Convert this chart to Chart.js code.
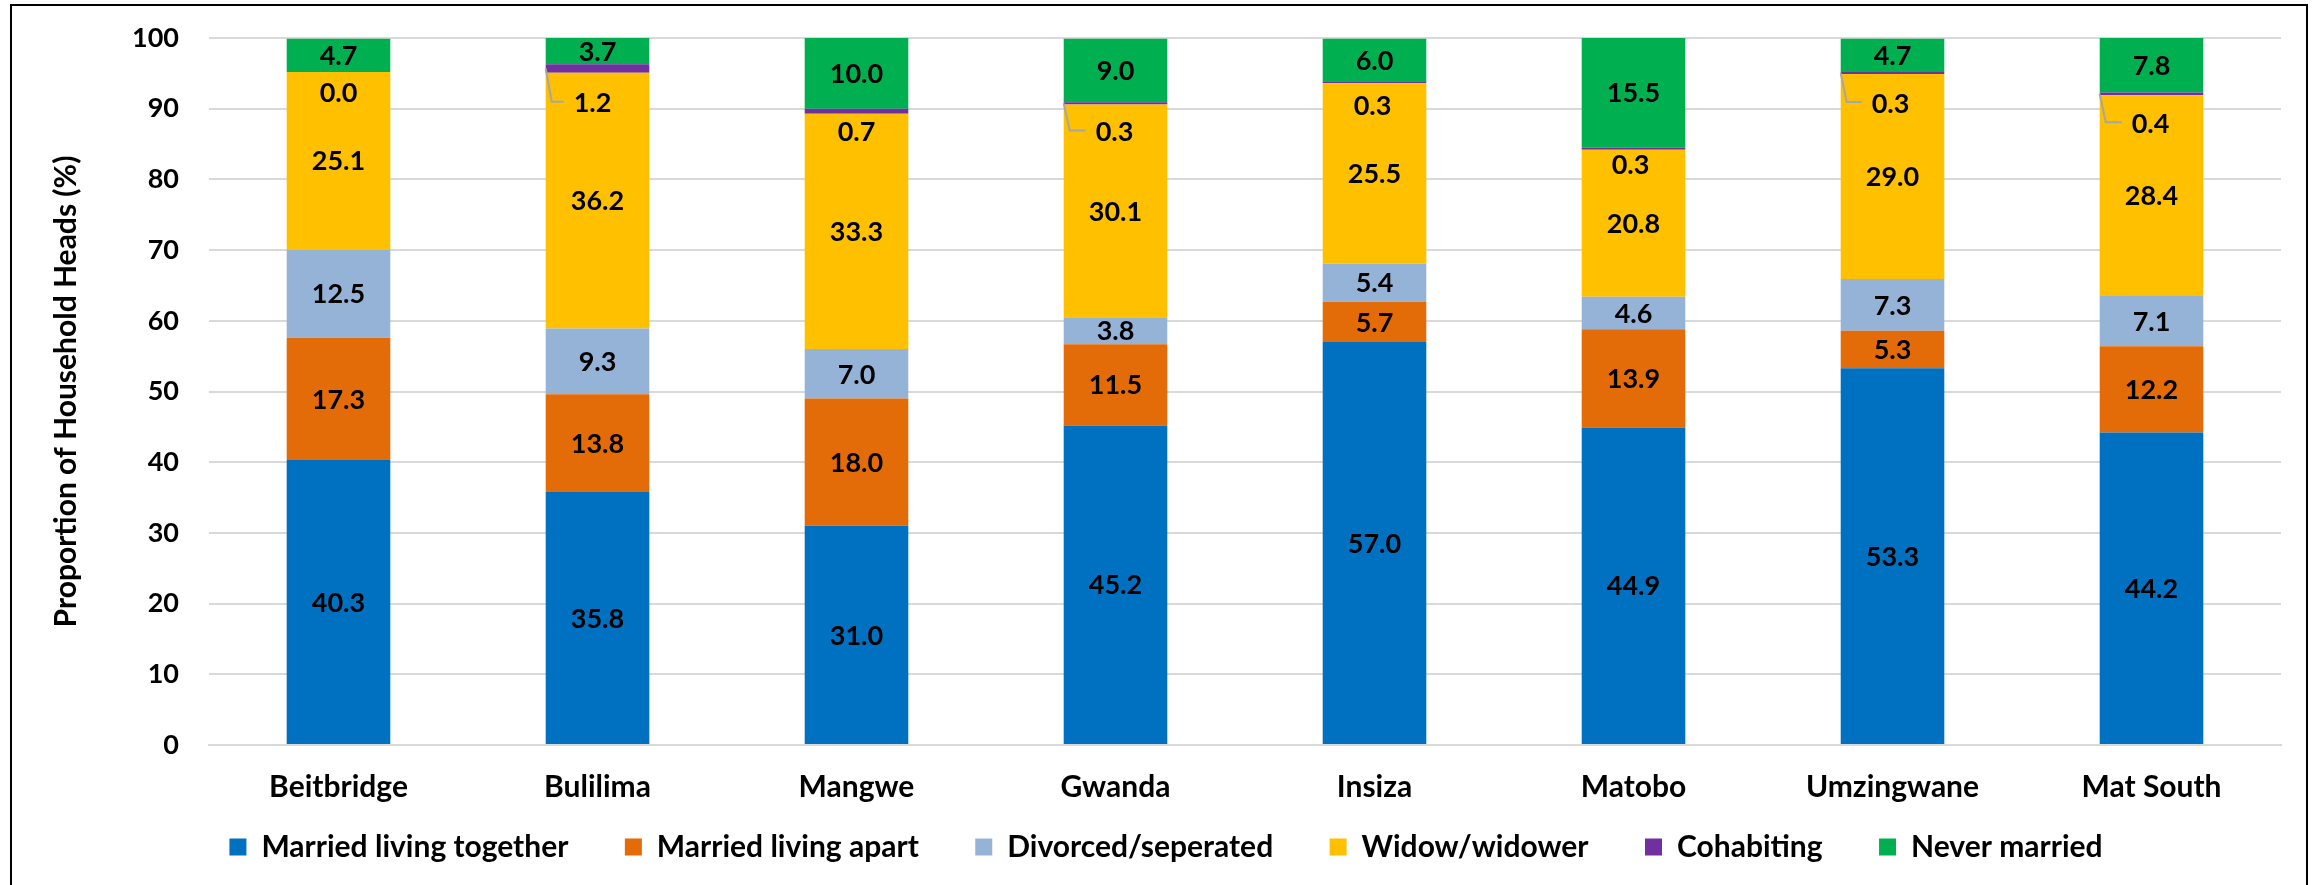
<!DOCTYPE html>
<html>
<head>
<meta charset="utf-8">
<script src="https://cdn.jsdelivr.net/npm/chart.js@4.4.1/dist/chart.umd.min.js"></script>
<style>
  html, body { margin: 0; padding: 0; background: #ffffff; }
  #wrap { width: 2313px; height: 885px; position: relative; }
</style>
</head>
<body>
<div id="wrap"><canvas id="chart" width="2313" height="885"></canvas></div>
<script>
// Marital status of household heads by district (%)
const districts = ['Beitbridge', 'Bulilima', 'Mangwe', 'Gwanda', 'Insiza', 'Matobo', 'Umzingwane', 'Mat South'];

const marriedTogether = [40.3, 35.8, 31.0, 45.2, 57.0, 44.9, 53.3, 44.2];
const marriedApart    = [17.3, 13.8, 18.0, 11.5, 5.7, 13.9, 5.3, 12.2];
const divorced        = [12.5, 9.3, 7.0, 3.8, 5.4, 4.6, 7.3, 7.1];
const widowed         = [25.1, 36.2, 33.3, 30.1, 25.5, 20.8, 29.0, 28.4];
const cohabiting      = [0.0, 1.2, 0.7, 0.3, 0.3, 0.3, 0.3, 0.4];
const neverMarried    = [4.7, 3.7, 10.0, 9.0, 6.0, 15.5, 4.7, 7.8];

const seriesNames = ['Married living together', 'Married living apart', 'Divorced/seperated', 'Widow/widower', 'Cohabiting', 'Never married'];
const yTicks = [0, 10, 20, 30, 40, 50, 60, 70, 80, 90, 100];

const FONT = 'Lato, "Open Sans", sans-serif';
const NUM_FS = 27;   // tick and value labels
const TXT_FS = 30;   // category, legend and axis title text
const colors = ['#0070C0', '#E36C09', '#95B3D7', '#FFC000', '#7030A0', '#00B050'];

// Small cohabiting values sit under their thin segment; some use a leader line.
const cohabLabelStyle = {
  dy:     [21, 31, 19, 28, 23, 16, 30, 29],
  dx:     [0, -5, 0, -1, -2, -3, -2, -1],
  leader: [false, true, false, true, false, false, true, true]
};

// extra trailing space after each legend entry (wider gap between items)
const LEGEND_GAP = '     ';

const seriesValues = [marriedTogether, marriedApart, divorced, widowed, cohabiting, neverMarried];

const valueLabels = {
  id: 'valueLabels',
  afterDatasetsDraw(chart) {
    const ctx = chart.ctx;
    ctx.save();
    ctx.font = 'bold ' + NUM_FS + 'px ' + FONT;
    ctx.fillStyle = '#000000';
    ctx.textAlign = 'center';
    ctx.textBaseline = 'middle';
    chart.data.datasets.forEach((ds, di) => {
      const meta = chart.getDatasetMeta(di);
      meta.data.forEach((bar, i) => {
        const v = ds.data[i];
        const txt = v.toFixed(1);
        if (di === 4) {
          const top = Math.min(bar.y, bar.base);
          const bot = Math.max(bar.y, bar.base);
          const lx = bar.x + cohabLabelStyle.dx[i];
          const ly = bot + cohabLabelStyle.dy[i];
          if (cohabLabelStyle.leader[i]) {
            const left = bar.x - bar.width / 2;
            const tw = ctx.measureText(txt).width;
            ctx.save();
            ctx.strokeStyle = '#A6A6A6';
            ctx.lineWidth = 2;
            ctx.beginPath();
            ctx.moveTo(left, (top + bot) / 2);
            ctx.lineTo(left + 6, ly - 2);
            ctx.lineTo(lx - tw / 2 - 10, ly - 2);
            ctx.stroke();
            ctx.restore();
          }
          ctx.fillText(txt, lx, ly);
        } else {
          ctx.fillText(txt, bar.x, (bar.y + bar.base) / 2 + 1);
        }
      });
    });
    ctx.restore();
  }
};

const frame = {
  id: 'frame',
  afterDraw(chart) {
    const ctx = chart.ctx;
    ctx.save();
    ctx.strokeStyle = '#000000';
    ctx.lineWidth = 2;
    ctx.strokeRect(11, 5, 2296, 900);
    ctx.restore();
  }
};

new Chart(document.getElementById('chart'), {
  type: 'bar',
  data: {
    labels: districts,
    datasets: seriesValues.map((vals, k) => ({
      label: seriesNames[k],
      data: vals,
      backgroundColor: colors[k],
      borderWidth: 0,
      categoryPercentage: 1.0,
      barPercentage: 0.4
    }))
  },
  options: {
    responsive: false,
    animation: false,
    devicePixelRatio: 1,
    layout: { padding: { left: 51, right: 32, top: 38, bottom: 13 } },
    plugins: {
      tooltip: { enabled: false },
      legend: {
        position: 'bottom',
        labels: {
          boxWidth: 17,
          boxHeight: 17,
          padding: 20,
          color: '#000000',
          font: { family: FONT, size: TXT_FS, weight: 'bold' },
          generateLabels(chart) {
            const items = Chart.defaults.plugins.legend.labels.generateLabels(chart);
            items.forEach((it, k) => {
              if (k < items.length - 1) it.text = it.text + LEGEND_GAP;
            });
            return items;
          }
        }
      }
    },
    scales: {
      x: {
        stacked: true,
        grid: { display: false, drawTicks: false },
        border: { display: true, color: '#D9D9D9', width: 2 },
        ticks: {
          padding: 24,
          color: '#000000',
          font: { family: FONT, size: TXT_FS, weight: 'bold' }
        },
        afterFit(scale) { scale.height = 67; scale.paddingLeft = 0; scale.paddingRight = 0; }
      },
      y: {
        stacked: true,
        min: 0,
        max: 100,
        afterBuildTicks(scale) { scale.ticks = yTicks.map(v => ({ value: v })); },
        grid: { color: '#D9D9D9', lineWidth: 2, drawTicks: false },
        border: { display: false },
        ticks: {
          padding: 30,
          color: '#000000',
          font: { family: FONT, size: NUM_FS, weight: 'bold' }
        },
        title: {
          display: true,
          text: 'Proportion of Household Heads (%)',
          color: '#000000',
          padding: { top: 0, bottom: 0 },
          font: { family: FONT, size: TXT_FS, weight: 'bold', lineHeight: 1 }
        },
        afterFit(scale) { scale.width = 158; scale.paddingTop = 0; scale.paddingBottom = 0; }
      }
    }
  },
  plugins: [valueLabels, frame]
});
</script>
</body>
</html>
